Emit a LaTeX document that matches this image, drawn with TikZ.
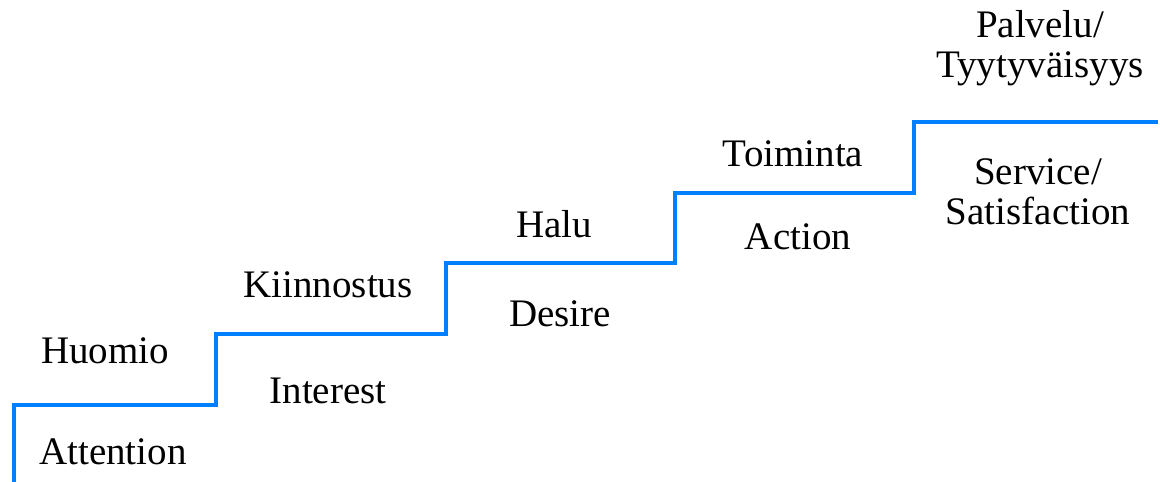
\documentclass[tikz,border=0pt]{standalone}
\usepackage{fontspec}
\setmainfont{Liberation Serif}
\definecolor{stairblue}{RGB}{0,128,255}
\begin{document}
\begin{tikzpicture}[x=1pt,y=-1pt,
  lbl/.style={anchor=base,inner sep=0pt,font=\fontsize{39}{40}\selectfont,align=center},
  stair/.style={draw=stairblue,line width=4.5pt,line join=miter}]
\useasboundingbox (0,0) rectangle (1160,482);
\coordinate (s0) at (14,482);
\coordinate (s1) at (14,405);
\coordinate (s2) at (216,405);
\coordinate (s3) at (216,334);
\coordinate (s4) at (446,334);
\coordinate (s5) at (446,263);
\coordinate (s6) at (675,263);
\coordinate (s7) at (675,193);
\coordinate (s8) at (914,193);
\coordinate (s9) at (914,122);
\coordinate (s10) at (1158,122);
\path[stair] (s0) -- (s1) -- (s2) -- (s3) -- (s4) -- (s5) -- (s6) -- (s7) -- (s8) -- (s9) -- (s10);
\node[lbl] (huomio) at (105,363) {Huomio};
\node[lbl] (attention) at (113,464) {Attention};
\node[lbl] (kiinnostus) at (328,297) {Kiinnostus};
\node[lbl] (interest) at (328,403) {Interest};
\node[lbl] (halu) at (554,237) {Halu};
\node[lbl] (desire) at (560,326) {Desire};
\node[lbl] (toiminta) at (793,166) {Toiminta};
\node[lbl] (action) at (798,249) {Action};
\node[lbl] (palvelu) at (1040,77) {Palvelu/\\Tyytyväisyys};
\node[lbl] (service) at (1038,224) {Service/\\Satisfaction};
\end{tikzpicture}
\end{document}
